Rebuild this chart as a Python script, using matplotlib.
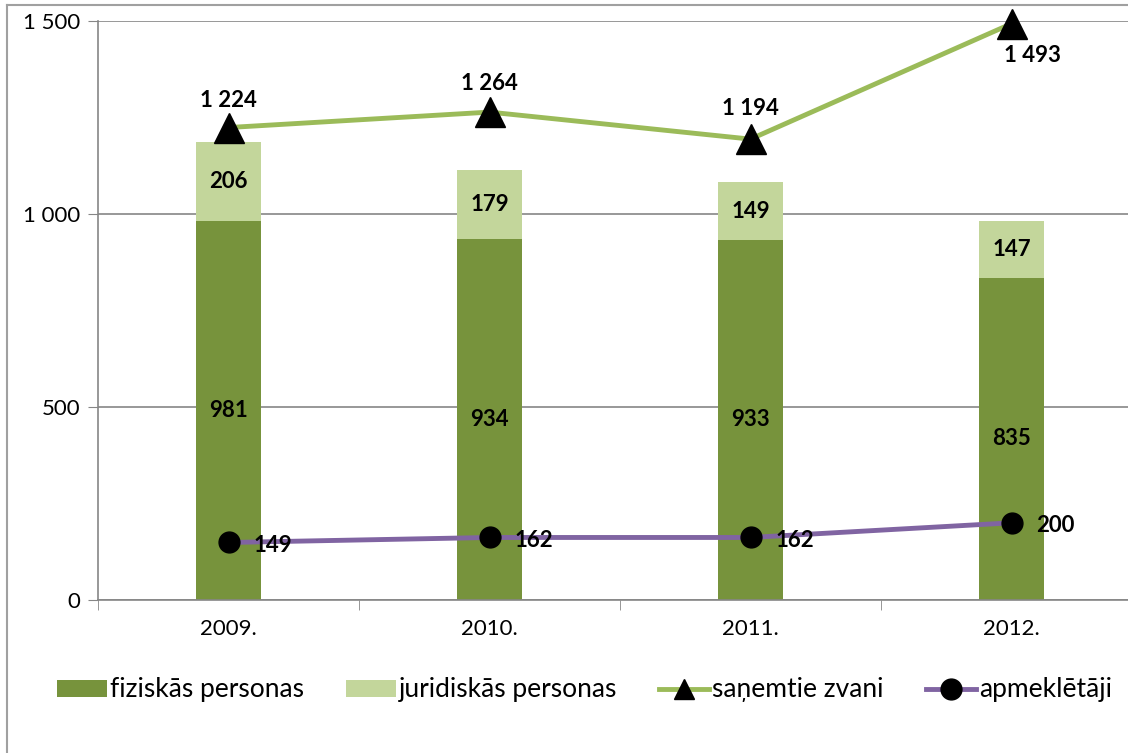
import matplotlib
matplotlib.use("Agg")
import matplotlib.pyplot as plt
from matplotlib.lines import Line2D
import numpy as np

years = ["2009.", "2010.", "2011.", "2012."]
fiziskas = [981, 934, 933, 835]
juridiskas = [206, 179, 149, 147]
zvani = [1224, 1264, 1194, 1493]
apmekletaji = [149, 162, 162, 200]

dark_green = "#77933C"
light_green = "#C3D69B"
line_green = "#9BBB59"
purple = "#8064A2"
grid_col = "#868686"

plt.rcParams["font.family"] = ["Lato", "DejaVu Sans"]


def fmt(v):
    return f"{v:,}".replace(",", " ")


fig = plt.figure(figsize=(11.28, 7.53), dpi=100)
ax = fig.add_axes([98 / 1128, 1 - 600 / 753, 1044 / 1128, 579 / 753])

x = np.arange(len(years))
w = 0.25
ax.bar(x, fiziskas, w, color=dark_green, label="fiziskās personas", zorder=2)
ax.bar(x, juridiskas, w, bottom=fiziskas, color=light_green,
       label="juridiskās personas", zorder=2)
ax.plot(x, zvani, color=line_green, lw=3.5, marker="^", ms=22, mfc="black",
        mec="black", label="saņemtie zvani", zorder=4, clip_on=False)
ax.plot(x, apmekletaji, color=purple, lw=3.5, marker="o", ms=15, mfc="black",
        mec="black", label="apmeklētāji", zorder=4, clip_on=False)

# segment labels
for i in x:
    ax.text(i, fiziskas[i] / 2, fmt(fiziskas[i]), ha="center", va="center",
            fontsize=16, fontweight="bold", zorder=5)
    ax.text(i, fiziskas[i] + juridiskas[i] / 2, fmt(juridiskas[i]), ha="center",
            va="center", fontsize=16, fontweight="bold", zorder=5)

# line labels
zv_off = [(0, 27), (0, 29), (0, 31), (0.08, -32)]
for i in x:
    dx, dy = zv_off[i]
    ax.annotate(fmt(zvani[i]), (i, zvani[i]), xytext=(dx * 261, dy),
                textcoords="offset pixels", ha="center", va="center",
                fontsize=16, fontweight="bold", zorder=5)
    ax.annotate(fmt(apmekletaji[i]), (i, apmekletaji[i]), xytext=(44, -3),
                textcoords="offset pixels", ha="center", va="center",
                fontsize=16, fontweight="bold", zorder=5)

ax.set_xlim(-0.5, 3.5)
ax.set_ylim(0, 1500)
ax.set_yticks([0, 500, 1000, 1500])
ax.set_yticklabels([fmt(v) for v in [0, 500, 1000, 1500]], fontsize=16)
ax.set_xticks(x)
ax.set_xticklabels(years, fontsize=16)
ax.set_xticks(np.arange(-0.5, 4, 1), minor=True)
ax.tick_params(axis="x", which="major", length=0, pad=14)
ax.tick_params(axis="x", which="minor", length=7, color=grid_col)
ax.tick_params(axis="y", length=7, color=grid_col, pad=6)
ax.grid(axis="y", color=grid_col, lw=1.2, zorder=0)
for s in ["top", "right"]:
    ax.spines[s].set_visible(False)
ax.spines["left"].set_color(grid_col)
ax.spines["bottom"].set_color(grid_col)
ax.spines["left"].set_linewidth(1.2)
ax.spines["bottom"].set_linewidth(1.2)

handles, labels = ax.get_legend_handles_labels()
order = [2, 3, 0, 1]
leg = fig.legend([handles[k] for k in order], [labels[k] for k in order],
                 loc="center", bbox_to_anchor=(0.518, 1 - 690 / 753), ncol=4,
                 frameon=False, fontsize=19, handlelength=1.9, handleheight=0.6,
                 columnspacing=1.6, handletextpad=0.1)
leg.legend_handles[2].set_markersize(15)

# outer chart border (partly cropped)
fig.add_artist(Line2D([7 / 1128, 7 / 1128], [0, 1 - 5 / 753],
                      transform=fig.transFigure, color="#A0A0A0", lw=1.5))
fig.add_artist(Line2D([7 / 1128, 1], [1 - 5 / 753, 1 - 5 / 753],
                      transform=fig.transFigure, color="#A0A0A0", lw=1.5))

fig.savefig("out.png", dpi=100)
